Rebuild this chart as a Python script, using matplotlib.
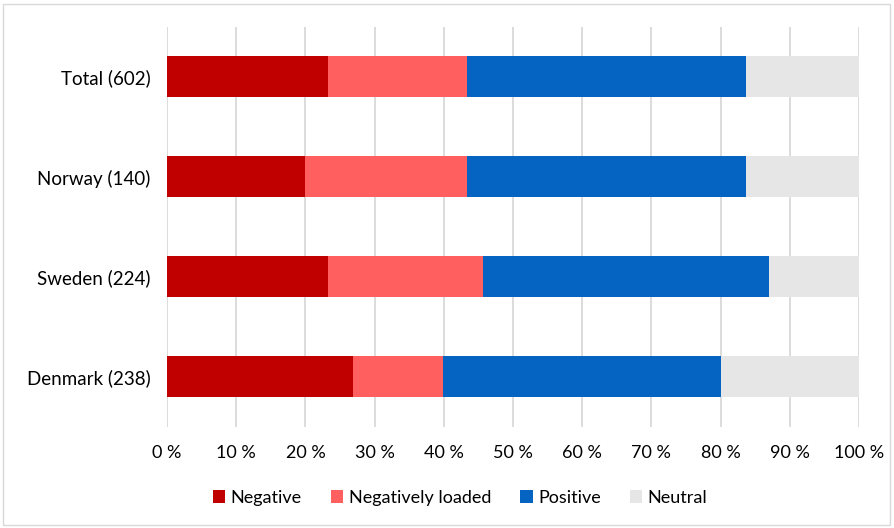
import matplotlib.pyplot as plt
from matplotlib.patches import Rectangle

categories = ["Denmark (238)", "Sweden (224)", "Norway (140)", "Total (602)"]
series = ["Negative", "Negatively loaded", "Positive", "Neutral"]
negative = [26.9, 23.2, 20.0, 23.2]
negatively_loaded = [13.0, 22.4, 23.4, 20.2]
positive = [40.1, 41.4, 40.2, 40.2]
neutral = [20.0, 13.0, 16.4, 16.4]
colors = ["#C00000", "#FF5F5F", "#0563C1", "#E6E6E6"]
xticks = list(range(0, 101, 10))

plt.rcParams["font.family"] = ["Lato", "DejaVu Sans"]

fig = plt.figure(figsize=(8.94, 5.28), dpi=100)
ax = fig.add_axes([0.1868, 0.1913, 0.7741, 0.7576])

left = [0.0] * len(categories)
for name, vals, c in zip(series, [negative, negatively_loaded, positive, neutral], colors):
    ax.barh(categories, vals, left=left, height=0.41, color=c, label=name, zorder=3)
    left = [a + b for a, b in zip(left, vals)]

ax.set_xlim(0, 100)
ax.set_ylim(-0.5, 3.5)
ax.set_xticks(xticks)
ax.set_xticklabels([f"{t} %" for t in xticks])
ax.grid(axis="x", color="#D9D9D9", linewidth=1.3, zorder=0)
ax.set_axisbelow(True)
for s in ax.spines.values():
    s.set_visible(False)
ax.tick_params(length=0, labelsize=13, colors="#000000")
ax.tick_params(axis="y", labelsize=13.5, pad=12)
ax.tick_params(axis="x", pad=13)

fig.legend(loc="center", bbox_to_anchor=(460 / 894, 1 - 498 / 528), ncol=4,
           frameon=False, fontsize=13, handlelength=0.7, handleheight=0.7,
           handletextpad=0.3, columnspacing=1.6)

fig.patches.append(Rectangle((0.003, 0.006), 0.993, 0.987, transform=fig.transFigure,
                             fill=False, edgecolor="#D9D9D9", linewidth=1))

fig.savefig("out.png", dpi=100)
